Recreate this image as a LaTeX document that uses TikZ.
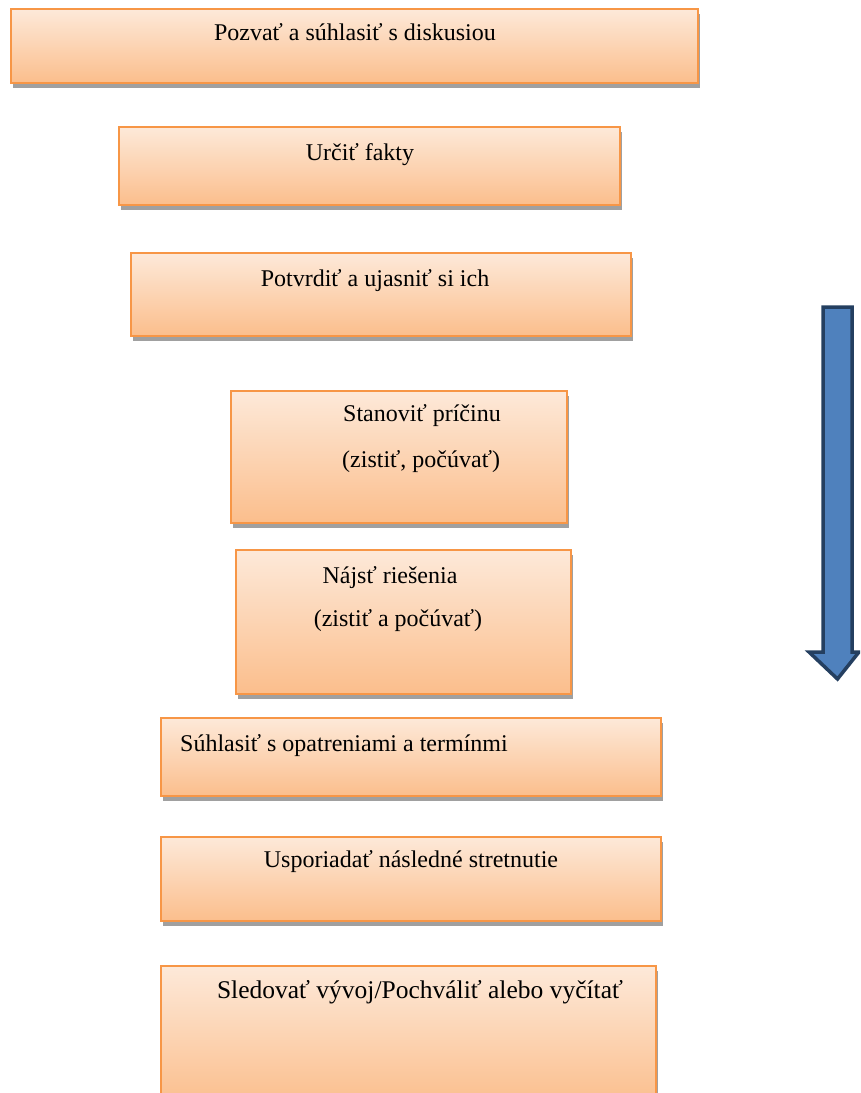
\documentclass[tikz,border=0pt]{standalone}
\usepackage{fontspec}
\setmainfont{Liberation Serif}
\usetikzlibrary{shadows}
\definecolor{boxtop}{HTML}{FDE9D9}
\definecolor{boxbot}{HTML}{FBBE8C}
\definecolor{boxline}{HTML}{F79646}
\definecolor{arrfill}{HTML}{4F81BD}
\definecolor{arrline}{HTML}{243F60}
\definecolor{shadowgray}{HTML}{A0A0A0}
\tikzset{
  stepbox/.style={draw=boxline, line width=2pt, top color=boxtop, bottom color=boxbot,
    drop shadow={shadow xshift=1.5pt, shadow yshift=-5pt, fill=shadowgray, opacity=1},
    inner sep=0pt, anchor=north west},
  steptext/.style={font=\fontsize{24}{28}\selectfont, inner sep=0pt, anchor=base},
}
\begin{document}
\begin{tikzpicture}[x=1pt,y=-1pt]
\path[use as bounding box] (0,0) rectangle (860,1093);
\clip (0,0) rectangle (860,1093);
% boxes
\node[stepbox, minimum width=687pt, minimum height=74pt] (b1) at (10,8) {};
\node[stepbox, minimum width=501pt, minimum height=78pt] (b2) at (118,126) {};
\node[stepbox, minimum width=500pt, minimum height=83pt] (b3) at (130,252) {};
\node[stepbox, minimum width=336pt, minimum height=132pt] (b4) at (230,390) {};
\node[stepbox, minimum width=335pt, minimum height=144pt] (b5) at (235,549) {};
\node[stepbox, minimum width=500pt, minimum height=78pt] (b6) at (160,717) {};
\node[stepbox, minimum width=500pt, minimum height=84pt] (b7) at (160,836) {};
\node[stepbox, minimum width=495pt, minimum height=140pt] (b8) at (160,965) {};
% texts
\node[steptext] (t1) at (355,40) {Pozvať a súhlasiť s diskusiou};
\node[steptext] (t2) at (360,160) {Určiť fakty};
\node[steptext] (t3) at (375,286) {Potvrdiť a ujasniť si ich};
\node[steptext, anchor=base west] (t4a) at (343,421) {Stanoviť príčinu};
\node[steptext, anchor=base west] (t4b) at (342,467) {(zistiť, počúvať)};
\node[steptext] (t5a) at (390,583) {Nájsť riešenia};
\node[steptext] (t5b) at (398,626) {(zistiť a počúvať)};
\node[steptext, anchor=base west] (t6) at (180,751) {Súhlasiť s opatreniami a termínmi};
\node[steptext] (t7) at (411,867) {Usporiadať následné stretnutie};
\node[steptext, font=\fontsize{25.5}{30}\selectfont] (t8) at (420,998) {Sledovať vývoj/Pochváliť alebo vyčítať};
% big arrow
\draw[fill=arrfill, draw=arrline, line width=3.5pt, line join=miter]
  (823,307) -- (852,307) -- (852,652) -- (859,652) -- (837.5,679) -- (809,652) -- (823,652) -- cycle;
\end{tikzpicture}
\end{document}
